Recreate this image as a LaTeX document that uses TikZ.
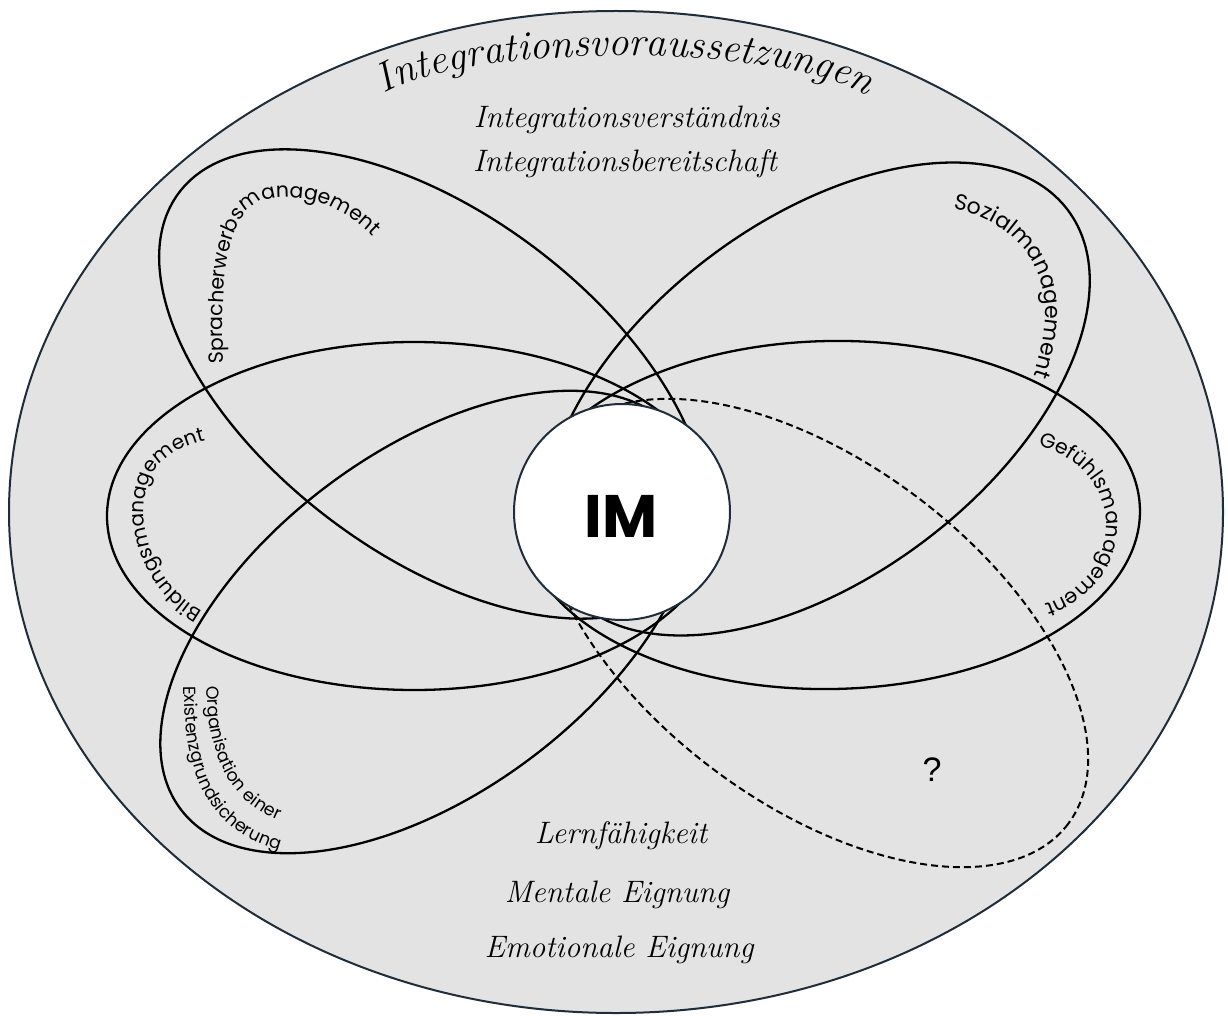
\documentclass[tikz,border=0pt]{standalone}
\usepackage{fontspec}
\usetikzlibrary{decorations.text}
\newfontfamily\gothic{Poppins}
\newfontfamily\qfont{Liberation Sans}
\definecolor{bggray}{HTML}{E3E3E3}
\definecolor{rimcol}{HTML}{1F2D3A}
\begin{document}
\begin{tikzpicture}[x=1pt,y=-1pt,
  ring/.style={draw=black, line width=2.3pt},
  dashring/.style={draw=black, line width=2pt, dash pattern=on 7pt off 4pt},
  serif/.style={font=\itshape\fontsize{31pt}{33pt}\selectfont, anchor=base, inner sep=0pt},
  curvedtext/.style={decorate, decoration={text along path, text align=center, text={#1}}},
  lefttext/.style={decorate, decoration={text along path, text align=left, text={#1}}}
]
\useasboundingbox (0,0) rectangle (1228,1016);
\fill[white] (0,0) rectangle (1228,1016);
% outer field
\draw[fill=bggray, draw=rimcol, line width=2pt] (616,512) ellipse [x radius=607, y radius=501];

% six management ellipses (inner ends hidden behind the centre circle)
\draw[ring, rotate around={-37:(433,384)}] (433,384) ellipse [x radius=318, y radius=170]; % Sprache
\draw[ring, rotate around={37:(817,399)}] (817,399) ellipse [x radius=314, y radius=178]; % Sozial
\draw[ring] (414,516) ellipse [x radius=307, y radius=174]; % Bildung
\draw[ring, rotate around={1:(831,515)}] (831,515) ellipse [x radius=309, y radius=174]; % Gefuehl
\draw[ring, rotate around={37:(429,622)}] (429,622) ellipse [x radius=311, y radius=170]; % Organisation
\draw[dashring, rotate around={-37:(815,633)}] (815,633) ellipse [x radius=317, y radius=170]; % ?

% centre
\node[circle, draw=rimcol, fill=white, line width=2pt, minimum size=216pt, inner sep=0pt] (im) at (622,512) {};
\node[font=\gothic\bfseries\fontsize{60pt}{60pt}\selectfont, anchor=base, inner sep=0pt] (imtext) at (621,537) {IM};

% curved title
\path[decorate, decoration={text along path, text align={fit to path},
  text={|\itshape\fontsize{41pt}{43pt}\selectfont|Integrationsvoraussetzungen}}]
  (384,94) .. controls (470,43) and (775,43) .. (864,94);

% straight serif texts
\node[serif] (iv) at (627,128) {Integrationsverständnis};
\node[serif] (ib) at (625,172) {Integrationsbereitschaft};
\node[serif] (lf) at (621,843) {Lernfähigkeit};
\node[serif] (me) at (617,902) {Mentale Eignung};
\node[serif] (ee) at (619,957) {Emotionale Eignung};

% question mark
\node[font=\qfont\fontsize{34pt}{34pt}\selectfont, inner sep=0pt] (q) at (932,770) {?};

% curved ellipse labels
\path[curvedtext={|\gothic\fontsize{20.5pt}{23pt}\selectfont|Spracherwerbsmanagement}]
  (224,374) .. controls (219,262) and (228,203) .. (275,198) .. controls (318,194) and (352,212) .. (380,244);
\path[curvedtext={|\gothic\fontsize{22pt}{24pt}\selectfont|Sozialmanagement}]
  (938,207) .. controls (1000,212) and (1050,255) .. (1045,320) .. controls (1043,345) and (1038,368) .. (1028,390);
\path[curvedtext={|\gothic\fontsize{20pt}{22pt}\selectfont|Bildungsmanagement}]
  (212,616) .. controls (150,588) and (134,520) .. (149,480) .. controls (160,456) and (186,443) .. (216,438);
\path[curvedtext={|\gothic\fontsize{20.5pt}{22pt}\selectfont|Gefühlsmanagement}]
  (1040,446) .. controls (1122,468) and (1132,572) .. (1046,604);
\path[lefttext={|\gothic\fontsize{17.5pt}{19pt}\selectfont|Organisation einer}]
  (207,686) .. controls (208,763) and (233,812) .. (304,828);
\path[lefttext={|\gothic\fontsize{17.5pt}{19pt}\selectfont|Existenzgrundsicherung}]
  (184,686) .. controls (184,785) and (214,845) .. (312,856);
\end{tikzpicture}
\end{document}
